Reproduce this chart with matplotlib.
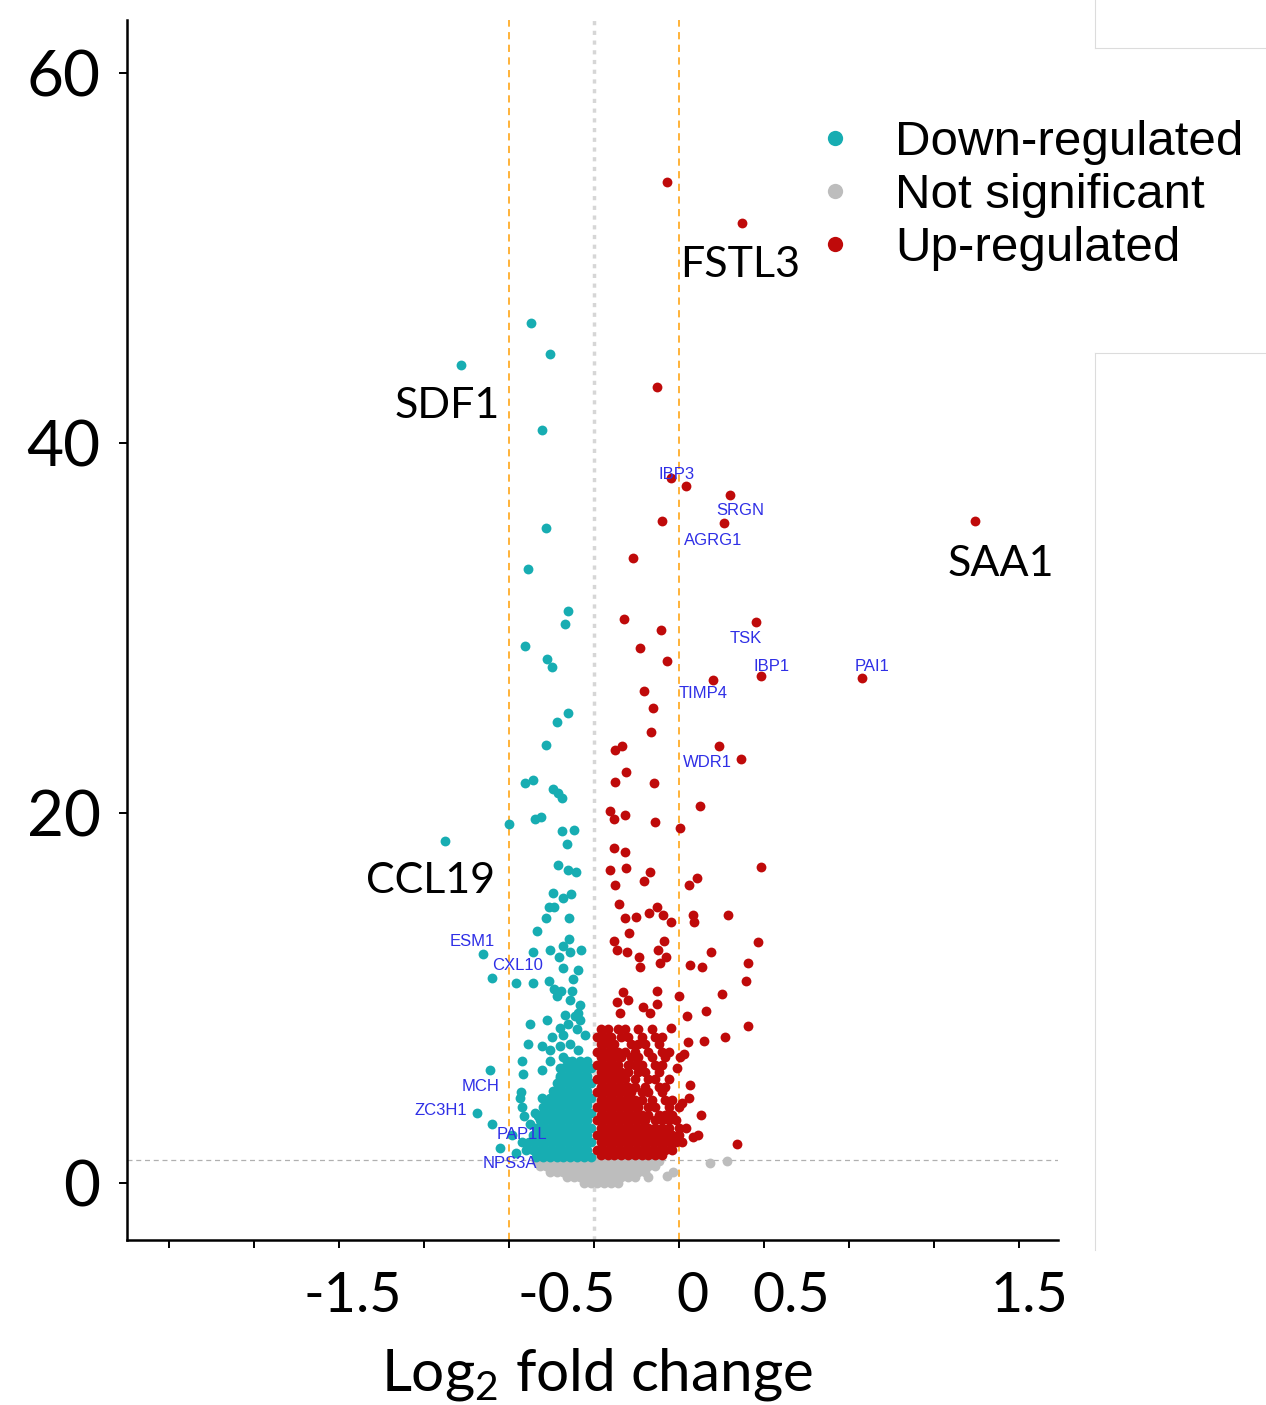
import matplotlib
matplotlib.use("Agg")
import matplotlib.pyplot as plt
from matplotlib.lines import Line2D
from matplotlib.patches import Rectangle

# log2 fold change / -log10 p
down_pts = [(-0.185, 46.5), (-0.129, 44.8), (-0.391, 44.2), (-0.153, 40.7), (-0.141, 35.4),
            (-0.194, 33.2), (-0.076, 30.9), (-0.085, 30.2), (-0.203, 29.0), (-0.138, 28.3),
            (-0.124, 27.9), (-0.076, 25.4), (-0.109, 24.9), (-0.141, 23.7), (-0.203, 21.6),
            (-0.179, 21.8), (-0.121, 21.3), (-0.106, 21.1), (-0.094, 20.8), (-0.250, 19.4),
            (-0.174, 19.7), (-0.156, 19.8), (-0.094, 19.0), (-0.059, 19.1), (-0.079, 18.3),
            (-0.438, 18.5), (-0.106, 17.2), (-0.076, 16.9), (-0.053, 16.8), (-0.121, 15.7),
            (-0.068, 15.6), (-0.091, 15.4), (-0.132, 14.9), (-0.118, 14.9), (-0.141, 14.3),
            (-0.074, 14.3), (-0.168, 13.6), (-0.326, 12.4), (-0.179, 12.5), (-0.129, 12.6),
            (-0.103, 12.2), (-0.091, 12.8), (-0.074, 13.2), (-0.071, 12.5), (-0.038, 12.6),
            (-0.300, 11.1), (-0.229, 10.8), (-0.179, 10.8), (-0.132, 10.9), (-0.091, 11.6),
            (-0.062, 11.0), (-0.047, 11.5), (-0.118, 10.5), (-0.097, 10.4), (-0.065, 10.4),
            (-0.109, 10.1), (-0.071, 9.9), (-0.041, 9.6), (-0.047, 9.2), (-0.056, 9.0),
            (-0.085, 9.1), (-0.076, 8.6), (-0.041, 8.8), (-0.100, 8.4), (-0.124, 7.9),
            (-0.091, 8.0), (-0.050, 8.3), (-0.026, 8.0), (-0.153, 7.4), (-0.129, 7.2),
            (-0.100, 7.4), (-0.071, 7.5), (-0.047, 7.2), (-0.129, 6.6), (-0.091, 6.8),
            (-0.065, 6.6), (-0.041, 6.5), (-0.100, 6.2), (-0.212, 6.6), (-0.209, 5.9),
            (-0.153, 6.1), (-0.188, 8.6), (-0.138, 8.8), (-0.194, 7.5), (-0.100, 5.7),
            (-0.218, 4.6), (-0.212, 4.1), (-0.153, 4.6), (-0.150, 4.1), (-0.174, 3.8),
            (-0.188, 3.2), (-0.165, 3.6), (-0.306, 6.1), (-0.300, 3.2), (-0.276, 1.9),
            (-0.212, 2.2), (-0.344, 3.8), (-0.229, 1.6), (-0.200, 1.8), (-0.240, 2.6),
            (-0.215, 4.9), (-0.205, 3.6)]
down_rows = [(1.4, [-0.17, -0.15, -0.13, -0.11, -0.09, -0.07, -0.05, -0.03, -0.01]),
             (1.8, [-0.18, -0.16, -0.14, -0.12, -0.10, -0.08, -0.06, -0.04, -0.02]),
             (2.2, [-0.19, -0.17, -0.15, -0.13, -0.11, -0.09, -0.07, -0.05, -0.03, -0.01]),
             (2.6, [-0.18, -0.16, -0.14, -0.12, -0.10, -0.08, -0.06, -0.04, -0.02]),
             (3.0, [-0.17, -0.15, -0.13, -0.11, -0.09, -0.07, -0.05, -0.03, -0.01]),
             (3.4, [-0.16, -0.14, -0.12, -0.10, -0.08, -0.06, -0.04, -0.02]),
             (3.8, [-0.15, -0.13, -0.11, -0.09, -0.07, -0.05, -0.03, -0.01]),
             (4.2, [-0.14, -0.12, -0.10, -0.08, -0.06, -0.04, -0.02]),
             (4.6, [-0.13, -0.11, -0.09, -0.07, -0.05, -0.03, -0.01]),
             (5.0, [-0.12, -0.10, -0.08, -0.06, -0.04, -0.02]),
             (5.4, [-0.11, -0.09, -0.07, -0.05, -0.03, -0.01]),
             (5.8, [-0.10, -0.08, -0.06, -0.04, -0.02]),
             (6.2, [-0.09, -0.07, -0.05, -0.03, -0.01]),
             (6.6, [-0.08, -0.04, -0.02])]

up_pts = [(0.215, 54.1), (0.435, 51.9), (0.185, 43.0), (0.226, 38.1), (0.271, 37.7),
          (0.400, 37.2), (0.200, 35.8), (0.382, 35.7), (0.115, 33.8), (1.121, 35.8),
          (0.088, 30.5), (0.197, 29.9), (0.135, 28.9), (0.476, 30.3), (0.215, 28.2),
          (0.350, 27.2), (0.491, 27.4), (0.788, 27.3), (0.147, 26.6), (0.174, 25.7),
          (0.168, 24.4), (0.062, 23.4), (0.082, 23.6), (0.368, 23.6), (0.432, 22.9),
          (0.094, 22.2), (0.062, 21.7), (0.176, 21.6), (0.312, 20.4), (0.047, 20.1),
          (0.059, 19.7), (0.091, 19.9), (0.179, 19.5), (0.253, 19.2), (0.059, 18.1),
          (0.091, 17.9), (0.491, 17.1), (0.047, 16.9), (0.094, 17.0), (0.165, 16.8),
          (0.147, 16.3), (0.062, 16.1), (0.279, 16.1), (0.303, 16.5), (0.074, 15.1),
          (0.091, 14.3), (0.124, 14.4), (0.162, 14.6), (0.185, 14.9), (0.203, 14.5),
          (0.226, 14.1), (0.291, 14.5), (0.294, 14.1), (0.394, 14.5), (0.103, 13.5),
          (0.059, 13.1), (0.068, 12.6), (0.097, 12.5), (0.132, 12.2), (0.135, 11.7),
          (0.188, 12.6), (0.206, 13.1), (0.212, 12.2), (0.194, 11.9), (0.282, 11.8),
          (0.318, 11.7), (0.344, 12.5), (0.453, 11.9), (0.482, 13.0), (0.447, 10.9),
          (0.085, 10.3), (0.068, 9.8), (0.100, 9.9), (0.185, 10.4), (0.185, 9.7),
          (0.144, 9.5), (0.165, 9.2), (0.076, 9.2), (0.250, 10.1), (0.376, 10.2),
          (0.329, 9.3), (0.274, 9.0), (0.226, 8.4), (0.385, 7.9), (0.324, 7.7),
          (0.276, 7.6), (0.253, 6.8), (0.265, 7.0), (0.244, 6.2), (0.282, 5.3),
          (0.279, 4.6), (0.259, 4.3), (0.315, 3.7), (0.306, 2.6), (0.291, 2.5),
          (0.421, 2.1), (0.453, 8.5)]
up_rows = [(8.3, [0.02, 0.04, 0.07, 0.09, 0.13, 0.17]),
           (7.9, [0.01, 0.03, 0.05, 0.08, 0.10, 0.14, 0.18, 0.20]),
           (7.5, [0.02, 0.04, 0.06, 0.11, 0.13, 0.15, 0.19]),
           (7.1, [0.01, 0.03, 0.05, 0.07, 0.09, 0.12, 0.16, 0.20, 0.22]),
           (6.8, [0.02, 0.04, 0.06, 0.08, 0.11, 0.13, 0.17, 0.21]),
           (6.4, [0.01, 0.03, 0.05, 0.07, 0.10, 0.12, 0.14, 0.18, 0.20]),
           (6.0, [0.02, 0.04, 0.06, 0.08, 0.10, 0.13, 0.15, 0.19]),
           (5.6, [0.01, 0.03, 0.05, 0.07, 0.09, 0.12, 0.16, 0.18, 0.22]),
           (5.2, [0.02, 0.04, 0.06, 0.08, 0.10, 0.12, 0.15, 0.19, 0.21]),
           (4.9, [0.01, 0.03, 0.05, 0.07, 0.09, 0.11, 0.14, 0.16, 0.20]),
           (4.5, [0.02, 0.04, 0.06, 0.08, 0.10, 0.12, 0.14, 0.17, 0.21, 0.23]),
           (4.1, [0.01, 0.03, 0.05, 0.07, 0.09, 0.11, 0.13, 0.16, 0.18, 0.22, 0.25]),
           (3.7, [0.02, 0.04, 0.06, 0.08, 0.10, 0.12, 0.14, 0.16, 0.19, 0.21, 0.23]),
           (3.4, [0.01, 0.03, 0.05, 0.07, 0.09, 0.11, 0.13, 0.15, 0.18, 0.20, 0.22, 0.24]),
           (3.0, [0.02, 0.04, 0.06, 0.08, 0.10, 0.12, 0.14, 0.16, 0.18, 0.20, 0.22, 0.25, 0.27]),
           (2.6, [0.01, 0.03, 0.05, 0.07, 0.09, 0.11, 0.13, 0.15, 0.17, 0.19, 0.21, 0.23, 0.25]),
           (2.2, [0.02, 0.04, 0.06, 0.08, 0.10, 0.12, 0.14, 0.16, 0.18, 0.20, 0.22, 0.24, 0.26]),
           (1.8, [0.01, 0.03, 0.05, 0.07, 0.09, 0.11, 0.13, 0.15, 0.17, 0.19, 0.21, 0.23]),
           (1.5, [0.02, 0.04, 0.06, 0.08, 0.10, 0.12, 0.14, 0.16, 0.18, 0.20])]

ns_pts = [(0.232, 0.6), (0.341, 1.1), (0.391, 1.2), (0.16, 0.3), (0.215, 0.4)]
ns_rows = [(1.2, [-0.17, -0.15, -0.13, -0.11, -0.09, -0.07, -0.05, -0.03, -0.01, 0.01, 0.03,
                  0.05, 0.07, 0.09, 0.11, 0.13, 0.15, 0.17, 0.19]),
           (0.9, [-0.16, -0.14, -0.12, -0.10, -0.08, -0.06, -0.04, -0.02, 0.00, 0.02, 0.04,
                  0.06, 0.08, 0.10, 0.12, 0.14, 0.16, 0.18]),
           (0.6, [-0.13, -0.11, -0.09, -0.07, -0.05, -0.03, -0.01, 0.01, 0.03, 0.05, 0.07,
                  0.09, 0.11, 0.13, 0.15]),
           (0.3, [-0.08, -0.06, -0.04, -0.02, 0.00, 0.02, 0.04, 0.06, 0.08, 0.10, 0.12]),
           (0.0, [-0.03, -0.01, 0.01, 0.03, 0.05, 0.07])]

big_labels = ["SDF1", "FSTL3", "SAA1", "CCL19"]
big_lfc = [-0.432, 0.429, 1.197, -0.482]
big_logp = [41.35, 48.97, 32.8, 15.68]

small_labels = ["IBP3", "SRGN", "AGRG1", "TSK", "IBP1", "PAI1", "TIMP4", "WDR1",
                "ESM1", "CXL10", "MCH", "ZC3H1", "PAP1L", "NPS3A"]
small_lfc = [0.244, 0.429, 0.350, 0.447, 0.521, 0.818, 0.321, 0.335,
             -0.359, -0.226, -0.335, -0.450, -0.212, -0.247]
small_logp = [38.05, 36.1, 34.5, 29.2, 27.7, 27.7, 26.2, 22.5,
              12.8, 11.5, 5.0, 3.7, 2.4, 0.8]

xtick_pos = [-1.25, -1.0, -0.75, -0.5, -0.25, 0.0, 0.25, 0.5, 0.75, 1.0, 1.25]
xlab_text = ["-1.5", "-0.5", "0", "0.5", "1.5"]
xlab_pos = [-0.71, -0.08, 0.29, 0.58, 1.28]
fc_cut = 0.25
p_cut = 1.24

legend_labels = ["Down-regulated", "Not significant", "Up-regulated"]
c_down, c_ns, c_up = "#17adb2", "#bdbdbd", "#bf0a0a"


def unpack(pts, rows):
    xs = [p[0] for p in pts]
    ys = [p[1] for p in pts]
    for y, row in rows:
        xs += row
        ys += [y] * len(row)
    return xs, ys


plt.rcParams['mathtext.default'] = 'regular'
W, H = 1266, 1405
fig = plt.figure(figsize=(W / 100, H / 100), dpi=100)
ax = fig.add_axes([127 / W, 165 / H, 931 / W, 1220 / H])
ax.set_xlim(-1.374, 1.365)
ax.set_ylim(-3.08, 62.86)

ax.axvline(0, color="#d6d6d6", lw=2.5, ls=(0, (1.2, 1.6)), zorder=1)
ax.axvline(-fc_cut, color="#ffad2a", lw=1.3, ls=(0, (4, 3)), zorder=1)
ax.axvline(fc_cut, color="#ffad2a", lw=1.3, ls=(0, (4, 3)), zorder=1)
ax.axhline(p_cut, color="#b0b0b0", lw=0.9, ls=(0, (4, 3)), zorder=1)

dot = 50
x, y = unpack(ns_pts, ns_rows)
ax.scatter(x, y, s=dot, c=c_ns, linewidths=0, zorder=2)
x, y = unpack(down_pts, down_rows)
ax.scatter(x, y, s=dot, c=c_down, linewidths=0, zorder=3)
x, y = unpack(up_pts, up_rows)
ax.scatter(x, y, s=dot, c=c_up, linewidths=0, zorder=3)

for s in ["top", "right"]:
    ax.spines[s].set_visible(False)
for s in ["left", "bottom"]:
    ax.spines[s].set_linewidth(1.8)

ax.set_xticks(xtick_pos)
ax.set_xticklabels([])
ax.set_yticks([0, 20, 40, 60])
ax.set_yticklabels(["0", "20", "40", "60"], fontfamily="Lato", fontsize=46)
ax.tick_params(axis="x", length=6, width=1.4)
ax.tick_params(axis="y", length=6, width=1.4, pad=13)

for t, p in zip(xlab_text, xlab_pos):
    ax.text(p, -0.059, t, transform=ax.get_xaxis_transform(), ha="center",
            va="baseline", fontfamily="Lato", fontsize=40)
ax.text(0.505, -0.123, "Log$_2$ fold change", transform=ax.transAxes, ha="center",
        va="baseline", fontfamily="Lato", fontsize=42)

# white patch behind SAA1 label
ax.add_patch(Rectangle((932 / W, 1 - 598 / H), 163 / W, 70 / H, transform=fig.transFigure,
                       fc="white", ec="none", zorder=5, clip_on=False))
for t, px, py in zip(big_labels, big_lfc, big_logp):
    ax.text(px, py, t, ha="center", va="baseline", fontfamily="Lato", fontsize=31,
            zorder=6, clip_on=False)
for t, px, py in zip(small_labels, small_lfc, small_logp):
    ax.text(px, py, t, ha="center", va="baseline", fontfamily="Liberation Sans",
            fontsize=12, color="#2f2fe6", zorder=6)

# legend
for i, (lab, col) in enumerate(zip(legend_labels, [c_down, c_ns, c_up])):
    ax.plot([0.7605], [0.9033 - i * 0.0434], "o", ms=11, color=col, mec="none",
            transform=ax.transAxes, clip_on=False)
    ax.text(0.8249, 0.8893 - i * 0.0434, lab, transform=ax.transAxes, va="baseline",
            fontfamily="Liberation Sans", fontsize=35.5)

# faint frame lines on the right edge of the source picture
for xs, ys in [([1095, 1095], [0, 48]), ([1095, 1266], [48, 48]),
               ([1095, 1266], [353, 353]), ([1095, 1095], [353, 1250])]:
    fig.add_artist(Line2D([v / W for v in xs], [1 - v / H for v in ys],
                          transform=fig.transFigure, color="#dcdcdc", lw=0.8))

fig.savefig("out.png", dpi=100)
